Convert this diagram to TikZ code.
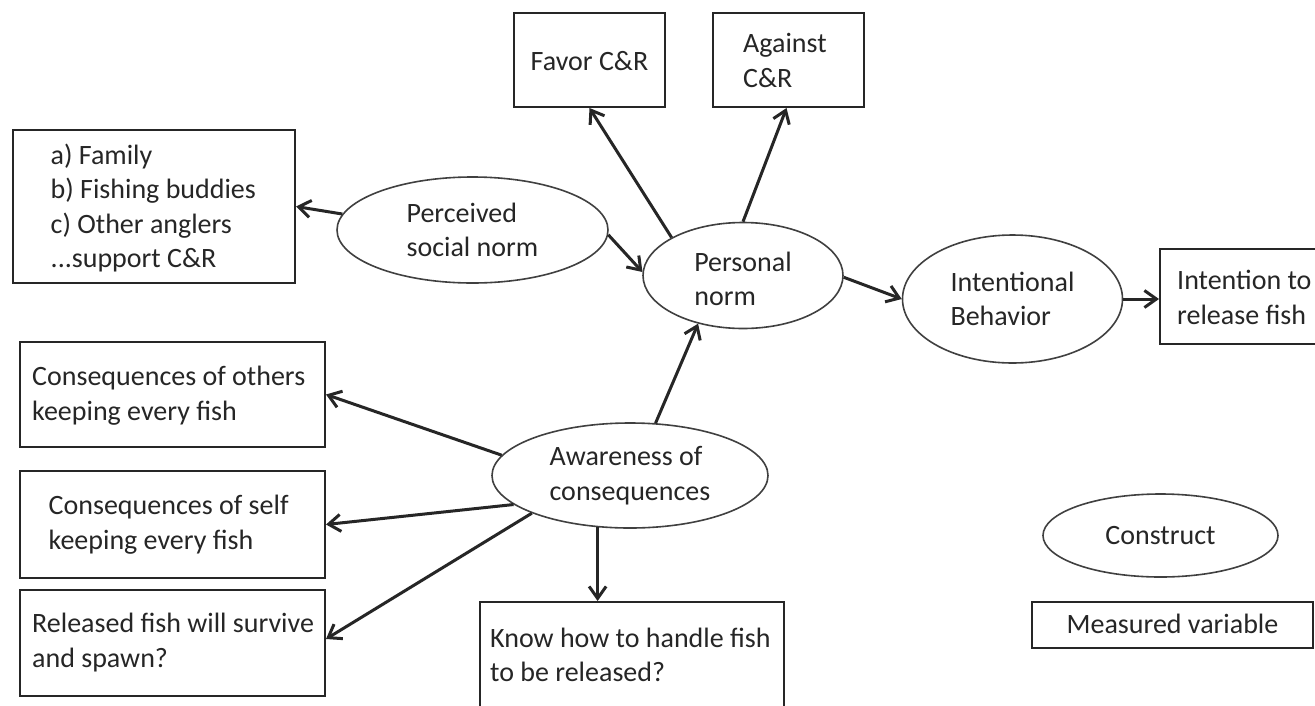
\documentclass[tikz,border=0pt]{standalone}
\usepackage{fontspec}
\setmainfont{Carlito}
\usetikzlibrary{shapes.geometric,arrows.meta}
\newcommand\dfont{\fontsize{28}{34.5}\selectfont}
\begin{document}
\begin{tikzpicture}[x=1pt,y=-1pt,
  box/.style={draw=black!85,line width=2pt,inner sep=0pt},
  cons/.style={draw=black!75,line width=1.6pt,ellipse,inner sep=0pt,align=left,font=\dfont,text=black!85},
  txt/.style={inner sep=0pt,align=left,font=\dfont,text=black!85},
  arr/.style={line width=3pt,draw=black!85,-{Straight Barb[length=12pt,width=17pt]}}]
\useasboundingbox (0,0) rectangle (1315,705);
\fill[white] (0,0) rectangle (1315,705);

% measured variables
\node[box,minimum width=282pt,minimum height=153pt] (fam) at (154,206.5) {};
\node[txt,anchor=west] (famt) at (50.5,208) {a) Family\\b) Fishing buddies\\c) Other anglers\\...support C\&R};
\node[box,minimum width=151pt,minimum height=94pt] (fav) at (589.5,60) {};
\node[txt] (favt) at (589.5,61) {Favor C\&R};
\node[box,minimum width=151pt,minimum height=94pt] (ag) at (788.5,60) {};
\node[txt,anchor=west] (agt) at (743,60.5) {Against\\C\&R};
\node[box,minimum width=170pt,minimum height=95pt] (itr) at (1245,296.5) {};
\node[txt,anchor=west] (itrt) at (1177,297.5) {Intention to\\release fish};
\node[box,minimum width=305pt,minimum height=105pt] (co) at (172.5,394.5) {};
\node[txt,anchor=west] (cot) at (32,395.5) {Consequences of others\\keeping every fish};
\node[box,minimum width=305pt,minimum height=107pt] (cs) at (172.5,524.5) {};
\node[txt,anchor=west] (cst) at (48.5,524.5) {Consequences of self\\keeping every fish};
\node[box,minimum width=305pt,minimum height=106pt] (rl) at (172.5,643) {};
\node[txt,anchor=west] (rlt) at (32,642.5) {Released fish will survive\\and spawn?};
\node[box,minimum width=304pt,minimum height=113pt] (kn) at (632,658.5) {};
\node[txt,anchor=west] (knt) at (490,655) {Know how to handle fish\\to be released?};
\node[box,minimum width=281pt,minimum height=46pt] (mv) at (1172.5,625) {};
\node[txt] (mvt) at (1172.5,623.5) {Measured variable};

% constructs
\node[cons,minimum width=271pt,minimum height=106pt] (psn) at (472.5,230) {Perceived\\social norm};
\node[cons,minimum width=200pt,minimum height=106pt,text height=61pt] (pn) at (743,275.5) {Personal\\norm};
\node[cons,minimum width=220pt,minimum height=128pt] (ib) at (1012.5,299) {Intentional\\Behavior};
\node[cons,minimum width=276pt,minimum height=105pt] (aw) at (630,475.5) {Awareness of\\consequences};
\node[cons,minimum width=235pt,minimum height=83pt] (cn) at (1160.5,535.5) {Construct};

% arrows
\draw[arr] (psn.173) -- (fam.east);
\draw[arr] (psn.-2) -- (pn.178);
\draw[arr] (pn.152) -- (fav.south);
\draw[arr] (pn.north) -- ([xshift=-2pt]ag.south);
\draw[arr] (pn.-1) -- (ib.west);
\draw[arr] (ib.east) -- (ib.east -| itr.west);
\draw[arr] (aw.64) -- (pn.227);
\draw[arr] (aw.171) -- (co.east);
\draw[arr] (aw.194) -- (cs.east);
\draw[arr] (aw.201) -- ([yshift=4pt]rl.east);
\draw[arr] (aw.238) -- (aw.238 |- kn.north);
\end{tikzpicture}
\end{document}
